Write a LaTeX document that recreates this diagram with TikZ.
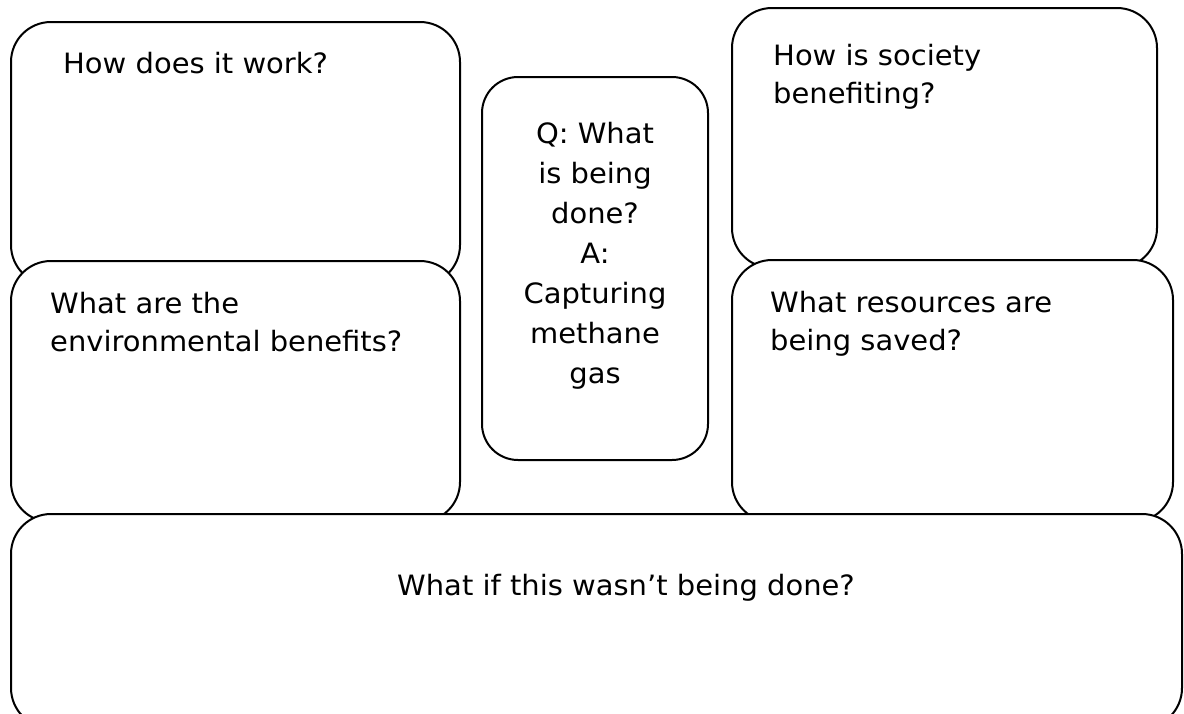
\documentclass[tikz,border=0pt]{standalone}
\usepackage{fontspec}
\setmainfont[FakeStretch=1.035]{DejaVu Sans}
\begin{document}
\begin{tikzpicture}[x=1pt,y=-1pt,
  panel/.style={draw=black, fill=white, line width=2pt, rounded corners=40pt},
  qtext/.style={anchor=base west, inner sep=0pt, align=left,
    font=\fontsize{28}{38}\selectfont},
  ctext/.style={anchor=base, inner sep=0pt, align=center,
    font=\fontsize{28}{40}\selectfont}]
\useasboundingbox (0,0) rectangle (1184,713);
\clip (0,0) rectangle (1184,713);

% upper row
\draw[panel] (11,22) rectangle (460,285);
\draw[panel] (732,8) rectangle (1157,268);
\draw[panel, rounded corners=36pt] (482,77) rectangle (708,460);

% middle row
\draw[panel] (11,261) rectangle (460,522);
\draw[panel] (732,260) rectangle (1173,522);

% bottom band
\draw[panel] (11,514) rectangle (1182,728);

% questions (each node sits on the baseline of its last line)
\node[qtext] (work) at (63,73) {How does it work?};
\node[qtext] (society) at (773,103) {How is society\\benefiting?};
\node[qtext] (env) at (50,351) {What are the\\environmental benefits?};
\node[qtext] (res) at (770,350) {What resources are\\being saved?};
\node[ctext] (done) at (595,383) {Q: What\\is being\\done?\\A:\\Capturing\\methane\\gas};
\node[qtext, anchor=base] (wasnt) at (626,595) {What if this wasn’t being done?};
\end{tikzpicture}
\end{document}
